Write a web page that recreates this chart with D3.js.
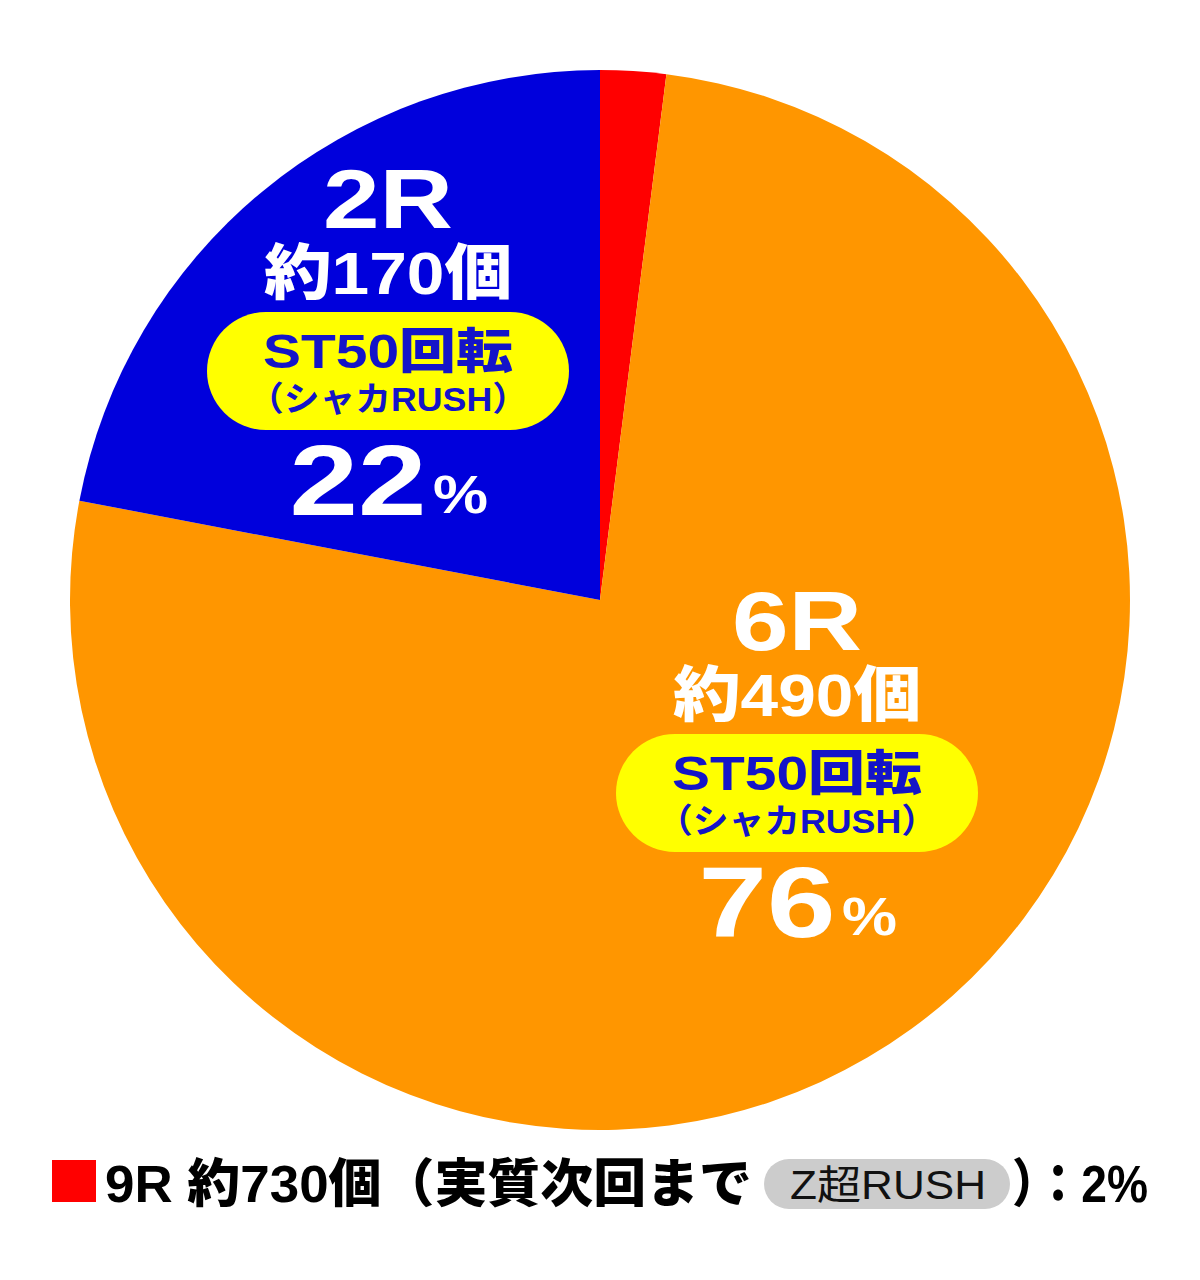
<!DOCTYPE html>
<html>
<head>
<meta charset="utf-8">
<script src="https://cdn.jsdelivr.net/npm/d3@7"></script>
<style>
  body { margin: 0; background: #fff; }
  svg { display: block; }
</style>
</head>
<body>
<script>
const WIDTH = 1200;
const HEIGHT = 1280;
const CENTER = { x: 600, y: 600 };
const RADIUS = 530;
const FONT = "'Liberation Sans', 'Noto Sans CJK JP', sans-serif";

// data
const categories = ["9R", "6R", "2R"];
const shares = [2, 76, 22];
const colors = ["#ff0000", "#ff9600", "#0000dc"];
const payouts = ["約730個", "約490個", "約170個"];
const modes = ["Z超RUSH", "ST50回転", "ST50回転"];
const subModes = ["", "（シャカRUSH）", "（シャカRUSH）"];

// label placement for the two big slices (index into data)
const LABEL_LAYOUT = {
    1: { cx: 797, top: 590 },
    2: { cx: 388, top: 168 }
};

var svg = d3.select("body").append("svg")
    .attr("width", WIDTH)
    .attr("height", HEIGHT)
    .attr("viewBox", [0, 0, WIDTH, HEIGHT]);

var data = categories.map((c, i) => ({
    name: c, value: shares[i], color: colors[i],
    payout: payouts[i], mode: modes[i], sub: subModes[i]
}));

var pie = d3.pie().sort(null).value(d => d.value).startAngle(0).endAngle(2 * Math.PI);
var arc = d3.arc().innerRadius(0).outerRadius(RADIUS);

var g = svg.append("g").attr("transform", `translate(${CENTER.x},${CENTER.y})`);
g.selectAll("path")
    .data(pie(data))
    .join("path")
    .attr("d", arc)
    .attr("fill", d => d.data.color);

// Slice labels
function bigText(parent, txt, x, y, size, len, fill, weight) {
    return parent.append("text")
        .text(txt)
        .attr("x", x - len / 2)
        .attr("y", y)
        .attr("textLength", len)
        .attr("lengthAdjust", "spacingAndGlyphs")
        .style("font-family", FONT)
        .style("font-size", size + "px")
        .style("font-weight", weight || 900)
        .style("fill", fill);
}

Object.keys(LABEL_LAYOUT).forEach(function(k) {
    var d = data[k];
    var L = LABEL_LAYOUT[k];
    var lg = svg.append("g");
    var t = L.top;
    bigText(lg, d.name, L.cx, t + 60, 84, 130, "#fff");
    bigText(lg, d.payout, L.cx, t + 126, 60, 248, "#fff");
    lg.append("rect")
        .attr("x", L.cx - 181)
        .attr("y", t + 144)
        .attr("width", 362)
        .attr("height", 118)
        .attr("rx", 59)
        .attr("fill", "#ffff00");
    bigText(lg, d.mode, L.cx, t + 200, 48, 250, "#1414c8");
    bigText(lg, d.sub, L.cx, t + 243, 34, 280, "#1414c8", 700);
    var pct = String(d.value);
    bigText(lg, pct, L.cx - 30, t + 347, 100, 137, "#fff");
    lg.append("text")
        .text("%")
        .attr("x", L.cx + 45)
        .attr("y", t + 345)
        .attr("textLength", 55)
        .attr("lengthAdjust", "spacingAndGlyphs")
        .style("font-family", FONT)
        .style("font-size", "54px")
        .style("font-weight", 900)
        .style("fill", "#fff");
});

// Legend for the small slice
var small = data[0];
var legendY = 1202;
svg.append("rect")
    .attr("x", 52)
    .attr("y", 1160)
    .attr("width", 44)
    .attr("height", 42)
    .attr("fill", small.color);
svg.append("text")
    .text(`${small.name} ${small.payout}（実質次回まで`)
    .attr("x", 105)
    .attr("y", legendY)
    .attr("textLength", 647)
    .attr("lengthAdjust", "spacingAndGlyphs")
    .style("font-family", FONT)
    .style("font-size", "52px")
    .style("font-weight", 900)
    .style("fill", "#000");
svg.append("rect")
    .attr("x", 764)
    .attr("y", 1159)
    .attr("width", 246)
    .attr("height", 50)
    .attr("rx", 25)
    .attr("fill", "#cccccc");
svg.append("text")
    .text(small.mode)
    .attr("x", 790)
    .attr("y", 1199)
    .attr("textLength", 196)
    .attr("lengthAdjust", "spacingAndGlyphs")
    .style("font-family", FONT)
    .style("font-size", "40px")
    .style("font-weight", 400)
    .style("fill", "#111");
svg.append("text")
    .text(`）：${small.value}%`)
    .attr("x", 1012)
    .attr("y", legendY)
    .attr("textLength", 136)
    .attr("lengthAdjust", "spacingAndGlyphs")
    .style("font-family", FONT)
    .style("font-size", "52px")
    .style("font-weight", 900)
    .style("fill", "#000");
</script>
</body>
</html>
